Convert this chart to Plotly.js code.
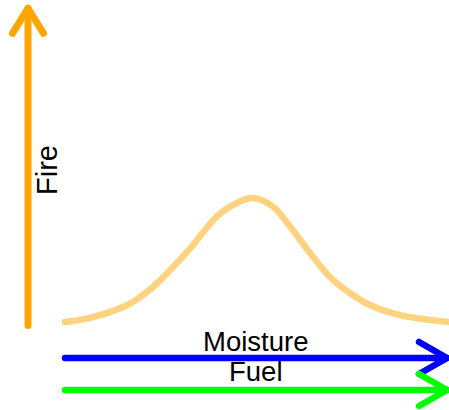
<!DOCTYPE html>
<html>
<head>
<meta charset="utf-8">
<script src="https://cdn.plot.ly/plotly-3.0.1.min.js"></script>
<style>
  html, body { margin: 0; padding: 0; background: #fff; }
  #chart { width: 449px; height: 410px; }
  .scatterlayer path.js-line { stroke-linecap: round; stroke-linejoin: round; }
</style>
</head>
<body>
<div id="chart"></div>
<script>
// Fire response curve (moisture on x, fire intensity on y)
const moisture = [0, 0.73, 1.62, 2.30, 2.82, 3.26, 3.60, 3.95, 4.30, 4.87, 5.40, 5.86, 6.38, 6.90, 7.42, 7.94, 8.72, 10.0];
const fire     = [0, 0.040, 0.137, 0.285, 0.446, 0.594, 0.725, 0.849, 0.930, 1.0, 0.935, 0.770, 0.556, 0.363, 0.234, 0.137, 0.056, 0.0];

// Axis arrows (shaft + open chevron head)
const fireShaftX = [-0.964, -0.964];
const fireShaftY = [-0.028, 2.53];
const fireHeadX  = [-1.368, -0.964, -0.560];
const fireHeadY  = [2.328, 2.53, 2.328];

const moistShaftX = [0, 9.95];
const moistShaftY = [-0.290, -0.290];
const moistHeadX  = [9.22, 9.95, 9.22];
const moistHeadY  = [-0.161, -0.290, -0.419];

const fuelShaftX = [0, 9.95];
const fuelShaftY = [-0.548, -0.548];
const fuelHeadX  = [9.22, 9.95, 9.22];
const fuelHeadY  = [-0.419, -0.548, -0.677];

const labels  = ['Fire', 'Moisture', 'Fuel'];
const labelX  = [-0.47, 4.97, 4.98];
const labelY  = [1.226, -0.161, -0.403];
const labelAngle = [-90, 0, 0];
const labelSize  = [29, 27.5, 27.5];

const orange = '#FFA500', curveCol = '#FFD27F', blue = '#0000FF', green = '#00FF00';

function seg(x, y, color, w) {
  return { x: x, y: y, mode: 'lines', type: 'scatter', hoverinfo: 'skip',
           line: { color: color, width: w } };
}

const traces = [
  { x: moisture, y: fire, mode: 'lines', type: 'scatter', hoverinfo: 'skip',
    line: { color: curveCol, width: 6.5, shape: 'spline', smoothing: 1 } },
  seg(fireShaftX, fireShaftY, orange, 7),
  seg(fireHeadX, fireHeadY, orange, 7),
  seg(moistShaftX, moistShaftY, blue, 6.5),
  seg(moistHeadX, moistHeadY, blue, 6.5),
  seg(fuelShaftX, fuelShaftY, green, 6.5),
  seg(fuelHeadX, fuelHeadY, green, 6.5)
];

const annotations = labels.map((t, i) => ({
  text: t, x: labelX[i], y: labelY[i], xref: 'x', yref: 'y',
  showarrow: false, textangle: labelAngle[i],
  font: { family: 'Liberation Sans, Arial, sans-serif', size: labelSize[i], color: '#000' },
  xanchor: 'center', yanchor: 'middle'
}));

const layout = {
  width: 449, height: 410,
  margin: { l: 0, r: 0, t: 0, b: 0, pad: 0 },
  paper_bgcolor: '#fff', plot_bgcolor: '#fff',
  showlegend: false,
  xaxis: { range: [-1.693, 10.0], visible: false, fixedrange: true },
  yaxis: { range: [-0.7097, 2.5968], visible: false, fixedrange: true },
  annotations: annotations
};

Plotly.newPlot('chart', traces, layout, { displayModeBar: false, staticPlot: true });
</script>
</body>
</html>
